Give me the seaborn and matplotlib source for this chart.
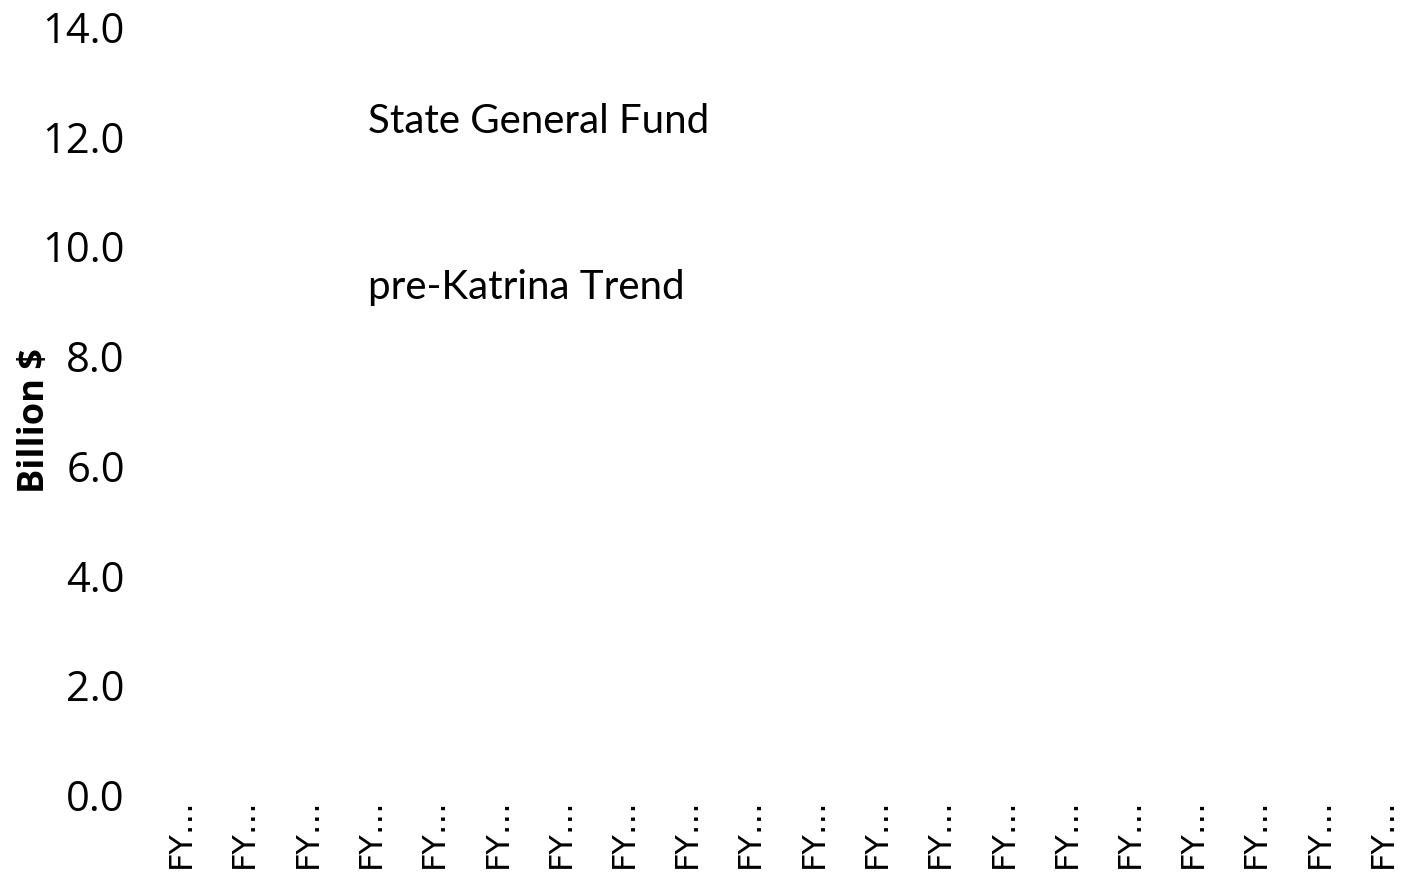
import numpy as np
import pandas as pd
import seaborn as sns
import matplotlib
matplotlib.use("Agg")
import matplotlib.pyplot as plt

# ---- data ----
categories = ["FY\u2026"] * 20
fiscal_index = list(range(20))
state_general_fund = [np.nan] * 20   # no visible values in the reference
pre_katrina_trend = [np.nan] * 20    # no visible values in the reference
yticks = [0.0, 2.0, 4.0, 6.0, 8.0, 10.0, 12.0, 14.0]
series_labels = ["State General Fund", "pre-Katrina Trend"]

sns.set_theme(style="white")
plt.rcParams["font.family"] = ["Open Sans", "DejaVu Sans"]
plt.rcParams["text.color"] = "black"
plt.rcParams["axes.labelcolor"] = "black"
plt.rcParams["xtick.color"] = "black"
plt.rcParams["ytick.color"] = "black"

fig = plt.figure(figsize=(14.13, 8.84), dpi=100)
ax = fig.add_axes([150 / 1413, 89 / 884, 1265 / 1413, 768 / 884])

df = pd.DataFrame({
    "idx": fiscal_index * 2,
    "value": state_general_fund + pre_katrina_trend,
    "series": [series_labels[0]] * 20 + [series_labels[1]] * 20,
})
df_valid = df.dropna()
if len(df_valid):
    sns.lineplot(data=df_valid, x="idx", y="value", hue="series", ax=ax, legend=False)

ax.set_xlim(-0.5, 19.5)
ax.set_ylim(0, 14)
ax.set_yticks(yticks)
ax.set_yticklabels([f"{v:.1f}" for v in yticks], fontsize=30)
ax.set_xticks(fiscal_index)
ax.set_xticklabels(categories, rotation=90, fontsize=23, va="top", ha="center",
                   family=["DejaVu Sans"])
ax.tick_params(axis="y", length=0, pad=18)
ax.tick_params(axis="x", length=0, pad=2)
for s in ax.spines.values():
    s.set_visible(False)
ax.set_xlabel("")
ax.set_ylabel("Billion $", fontsize=26, fontweight="bold")
ax.yaxis.set_label_coords((53 - 150) / 1265, (795 - 421) / 768)

ax.text(2.95, 12.27, series_labels[0], fontsize=29, va="center", ha="left",
        family=["Lato", "DejaVu Sans"])
ax.text(2.95, 9.26, series_labels[1], fontsize=29, va="center", ha="left",
        family=["Lato", "DejaVu Sans"])

fig.savefig("out.png", dpi=100, facecolor="white")
